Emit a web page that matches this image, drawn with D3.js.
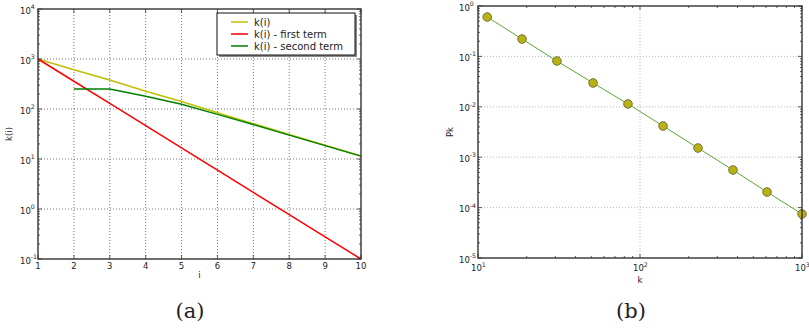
<!DOCTYPE html>
<html>
<head>
<meta charset="utf-8">
<script src="https://cdn.jsdelivr.net/npm/d3@7"></script>
<style>
  html, body { margin: 0; padding: 0; background: #fff; }
  svg { display: block; }
  text { font-family: "DejaVu Sans", sans-serif; fill: #222; }
</style>
</head>
<body>
<svg id="fig" width="809" height="328"></svg>
<script>
// ---- panel (a): k(i) and its two terms ----
const iValues      = [1, 2, 3, 4, 5, 6, 7, 8, 9, 10];
const kTotal       = [1000, 609, 379, 226, 141, 84, 51, 30.8, 18.8, 11.5];
const kFirstTerm   = [1000, 359, 129, 46.4, 16.7, 5.99, 2.15, 0.774, 0.278, 0.1];
const iSecond      = [2, 3, 4, 5, 6, 7, 8, 9, 10];
const kSecondTerm  = [250, 250, 180, 124, 78, 48.9, 30, 18.5, 11.4];
const seriesNames  = ["k(i)", "k(i) - first term", "k(i) - second term"];
const aXTicks      = [1, 2, 3, 4, 5, 6, 7, 8, 9, 10];
const aYExponents  = [-1, 0, 1, 2, 3, 4];

// ---- panel (b): Pk against k ----
const kValues  = [11.4, 18.7, 30.7, 51.3, 84.3, 138.7, 228, 375, 608, 1000];
const pkValues = [0.605, 0.221, 0.081, 0.0297, 0.0114, 0.00416, 0.00152, 5.57e-4, 2.04e-4, 7.46e-5];
const bXExponents = [1, 2, 3];
const bYExponents = [-5, -4, -3, -2, -1, 0];

const svg = d3.select("#fig");
const frameColor = "#333";
const tickFont = 8.5;

function minorLogTicks(lo, hi) {
  const out = [];
  for (let e = lo; e < hi; e++)
    for (let m = 2; m <= 9; m++) out.push(m * Math.pow(10, e));
  return out;
}

// power-of-ten label: "10" plus a raised exponent
function powLabel(g, x, y, exp, anchor) {
  const t = g.append("text").attr("x", x).attr("y", y)
    .attr("font-size", tickFont).attr("text-anchor", anchor);
  t.append("tspan").text("10");
  t.append("tspan").attr("dy", -4.5).attr("font-size", 6.2).text(String(exp));
  return t;
}

function drawFrame(g, x0, x1, y0, y1) {
  g.append("rect").attr("x", x0).attr("y", y1)
    .attr("width", x1 - x0).attr("height", y0 - y1)
    .attr("fill", "none").attr("stroke", frameColor).attr("stroke-width", 1.4);
}

// ================= panel (a) =================
{
  const g = svg.append("g");
  const x = d3.scaleLinear().domain([1, 10]).range([38, 361]);
  const y = d3.scaleLog().domain([0.1, 1e4]).range([259, 9]);
  const [x0, x1] = x.range(), [y0, y1] = y.range();

  // grid
  g.append("g").selectAll("line").data(aXTicks.slice(1, -1)).join("line")
    .attr("x1", d => x(d)).attr("x2", d => x(d)).attr("y1", y0).attr("y2", y1)
    .attr("stroke", "#555").attr("stroke-width", 0.8).attr("stroke-dasharray", "1,2");
  g.append("g").selectAll("line").data(aYExponents.slice(1, -1)).join("line")
    .attr("x1", x0).attr("x2", x1).attr("y1", d => y(Math.pow(10, d))).attr("y2", d => y(Math.pow(10, d)))
    .attr("stroke", "#555").attr("stroke-width", 0.8).attr("stroke-dasharray", "1,2");

  // lines
  const line = d3.line().x(d => x(d[0])).y(d => y(d[1]));
  g.append("path").datum(iValues.map((v, k) => [v, kTotal[k]]))
    .attr("d", line).attr("fill", "none").attr("stroke", "#bfbf00").attr("stroke-width", 1.5);
  g.append("path").datum(iValues.map((v, k) => [v, kFirstTerm[k]]))
    .attr("d", line).attr("fill", "none").attr("stroke", "#ff0000").attr("stroke-width", 1.5);
  g.append("path").datum(iSecond.map((v, k) => [v, kSecondTerm[k]]))
    .attr("d", line).attr("fill", "none").attr("stroke", "#008000").attr("stroke-width", 1.5);

  // ticks (inside, all four sides)
  const tk = g.append("g").attr("stroke", frameColor).attr("stroke-width", 0.8);
  aXTicks.forEach(d => {
    tk.append("line").attr("x1", x(d)).attr("x2", x(d)).attr("y1", y0).attr("y2", y0 - 4);
    tk.append("line").attr("x1", x(d)).attr("x2", x(d)).attr("y1", y1).attr("y2", y1 + 4);
  });
  aYExponents.forEach(e => {
    const yy = y(Math.pow(10, e));
    tk.append("line").attr("x1", x0).attr("x2", x0 + 4).attr("y1", yy).attr("y2", yy);
    tk.append("line").attr("x1", x1).attr("x2", x1 - 4).attr("y1", yy).attr("y2", yy);
  });
  minorLogTicks(-1, 4).forEach(v => {
    const yy = y(v);
    tk.append("line").attr("x1", x0).attr("x2", x0 + 2).attr("y1", yy).attr("y2", yy);
    tk.append("line").attr("x1", x1).attr("x2", x1 - 2).attr("y1", yy).attr("y2", yy);
  });

  drawFrame(g, x0, x1, y0, y1);

  // tick labels
  g.append("g").selectAll("text").data(aXTicks).join("text")
    .attr("x", d => x(d)).attr("y", y0 + 10).attr("text-anchor", "middle")
    .attr("font-size", tickFont).text(d => d);
  aYExponents.forEach(e => powLabel(g, 20, y(Math.pow(10, e)) + 4.5, e, "start"));

  // axis labels
  g.append("text").attr("x", (x0 + x1) / 2).attr("y", 278).attr("text-anchor", "middle")
    .attr("font-size", 8.5).text("i");
  g.append("text").attr("transform", `translate(12,${(y0 + y1) / 2}) rotate(-90)`)
    .attr("text-anchor", "middle").attr("font-size", 8.5).text("k(i)");

  // legend with a drop shadow
  const lg = g.append("g");
  lg.append("rect").attr("x", 219).attr("y", 15).attr("width", 138).attr("height", 42).attr("fill", "#888");
  lg.append("rect").attr("x", 217).attr("y", 13).attr("width", 138).attr("height", 42)
    .attr("fill", "#fff").attr("stroke", "#111").attr("stroke-width", 1);
  const legendColors = ["#bfbf00", "#ff0000", "#008000"];
  seriesNames.forEach((name, k) => {
    const yy = 22 + k * 12;
    lg.append("line").attr("x1", 231).attr("x2", 248).attr("y1", yy).attr("y2", yy)
      .attr("stroke", legendColors[k]).attr("stroke-width", 1.5);
    lg.append("text").attr("x", 254).attr("y", yy + 3.6).attr("font-size", 10).text(name);
  });

  svg.append("text").attr("x", 190).attr("y", 318).attr("text-anchor", "middle")
    .style("font-family", "'DejaVu Serif', serif").attr("font-size", 21).text("(a)");
}

// ================= panel (b) =================
{
  const g = svg.append("g");
  const x = d3.scaleLog().domain([10, 1000]).range([478, 802]);
  const y = d3.scaleLog().domain([1e-5, 1]).range([258, 6]);
  const [x0, x1] = x.range(), [y0, y1] = y.range();

  // grid
  g.append("g").selectAll("line").data(bXExponents.slice(1, -1)).join("line")
    .attr("x1", d => x(Math.pow(10, d))).attr("x2", d => x(Math.pow(10, d))).attr("y1", y0).attr("y2", y1)
    .attr("stroke", "#aaa").attr("stroke-width", 0.8).attr("stroke-dasharray", "1,2");
  g.append("g").selectAll("line").data(bYExponents.slice(1, -1)).join("line")
    .attr("x1", x0).attr("x2", x1).attr("y1", d => y(Math.pow(10, d))).attr("y2", d => y(Math.pow(10, d)))
    .attr("stroke", "#aaa").attr("stroke-width", 0.8).attr("stroke-dasharray", "1,2");

  // ticks
  const tk = g.append("g").attr("stroke", frameColor).attr("stroke-width", 0.8);
  bXExponents.forEach(e => {
    const xx = x(Math.pow(10, e));
    tk.append("line").attr("x1", xx).attr("x2", xx).attr("y1", y0).attr("y2", y0 - 4);
    tk.append("line").attr("x1", xx).attr("x2", xx).attr("y1", y1).attr("y2", y1 + 4);
  });
  minorLogTicks(1, 3).forEach(v => {
    const xx = x(v);
    tk.append("line").attr("x1", xx).attr("x2", xx).attr("y1", y0).attr("y2", y0 - 2);
    tk.append("line").attr("x1", xx).attr("x2", xx).attr("y1", y1).attr("y2", y1 + 2);
  });
  bYExponents.forEach(e => {
    const yy = y(Math.pow(10, e));
    tk.append("line").attr("x1", x0).attr("x2", x0 + 4).attr("y1", yy).attr("y2", yy);
    tk.append("line").attr("x1", x1).attr("x2", x1 - 4).attr("y1", yy).attr("y2", yy);
  });
  minorLogTicks(-5, 0).forEach(v => {
    const yy = y(v);
    tk.append("line").attr("x1", x0).attr("x2", x0 + 2).attr("y1", yy).attr("y2", yy);
    tk.append("line").attr("x1", x1).attr("x2", x1 - 2).attr("y1", yy).attr("y2", yy);
  });

  // data line and markers
  const pts = kValues.map((k, n) => [k, pkValues[n]]);
  g.append("path").datum(pts)
    .attr("d", d3.line().x(d => x(d[0])).y(d => y(d[1])))
    .attr("fill", "none").attr("stroke", "#5aa832").attr("stroke-width", 1);
  g.append("g").selectAll("circle").data(pts).join("circle")
    .attr("cx", d => x(d[0])).attr("cy", d => y(d[1])).attr("r", 4.3)
    .attr("fill", "#b9b214").attr("stroke", "#6b6430").attr("stroke-width", 0.9);

  drawFrame(g, x0, x1, y0, y1);

  // tick labels
  bXExponents.forEach(e => powLabel(g, x(Math.pow(10, e)) - 7, 271, e, "start"));
  bYExponents.forEach(e => powLabel(g, 459, y(Math.pow(10, e)) + 4.5, e, "start"));

  g.append("text").attr("x", (x0 + x1) / 2).attr("y", 283).attr("text-anchor", "middle")
    .attr("font-size", 8.5).text("k");
  g.append("text").attr("transform", `translate(453,${(y0 + y1) / 2}) rotate(-90)`)
    .attr("text-anchor", "middle").attr("font-size", 8.5).text("Pk");

  svg.append("text").attr("x", 631).attr("y", 318).attr("text-anchor", "middle")
    .style("font-family", "'DejaVu Serif', serif").attr("font-size", 21).text("(b)");
}
</script>
</body>
</html>
